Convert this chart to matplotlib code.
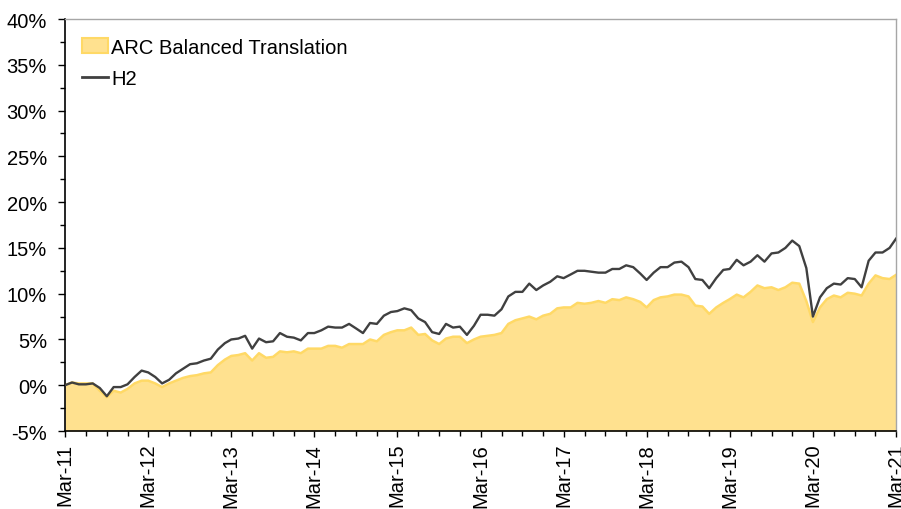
import matplotlib

matplotlib.use("Agg")

import matplotlib.dates as mdates
import matplotlib.pyplot as plt
import numpy as np
import pandas as pd
from matplotlib.lines import Line2D
from matplotlib.patches import Patch
from matplotlib.ticker import FuncFormatter, MultipleLocator

plt.rcParams["font.family"] = ["Liberation Sans", "DejaVu Sans"]

# monthly cumulative returns (%), Mar-11 .. Mar-21
months = pd.date_range("2011-03-01", "2021-03-01", freq="MS")

arc_balanced = [
    0.0, 0.3, 0.2, 0.2, 0.2, -0.6, -1.3, -0.6, -0.8, -0.4, 0.2, 0.5,
    0.5, 0.2, -0.2, 0.2, 0.5, 0.8, 1.0, 1.1, 1.3, 1.4, 2.2, 2.8,
    3.2, 3.3, 3.5, 2.7, 3.5, 3.0, 3.1, 3.7, 3.6, 3.7, 3.5, 4.0,
    4.0, 4.0, 4.3, 4.3, 4.1, 4.5, 4.5, 4.5, 5.0, 4.8, 5.5, 5.8,
    6.0, 6.0, 6.3, 5.5, 5.6, 4.9, 4.5, 5.1, 5.3, 5.3, 4.6, 5.0,
    5.3, 5.4, 5.5, 5.7, 6.7, 7.1, 7.3, 7.5, 7.2, 7.6, 7.8, 8.4,
    8.5, 8.5, 9.0, 8.9, 9.0, 9.2, 9.0, 9.4, 9.3, 9.6, 9.4, 9.1,
    8.5, 9.3, 9.6, 9.7, 9.9, 9.9, 9.7, 8.7, 8.6, 7.8, 8.5, 9.0,
    9.4, 9.9, 9.6, 10.2, 10.9, 10.6, 10.7, 10.4, 10.7, 11.2, 11.1, 9.2,
    6.9, 8.5, 9.4, 9.8, 9.6, 10.1, 10.0, 9.8, 11.1, 12.0, 11.7, 11.6,
    12.05,
]

h2 = [
    0.0, 0.3, 0.1, 0.1, 0.2, -0.3, -1.2, -0.2, -0.2, 0.1, 0.9, 1.6,
    1.4, 0.9, 0.2, 0.6, 1.3, 1.8, 2.3, 2.4, 2.7, 2.9, 3.9, 4.6,
    5.0, 5.1, 5.4, 4.0, 5.1, 4.7, 4.8, 5.7, 5.3, 5.2, 4.9, 5.7,
    5.7, 6.0, 6.4, 6.3, 6.3, 6.7, 6.2, 5.7, 6.8, 6.7, 7.6, 8.0,
    8.1, 8.4, 8.2, 7.3, 6.9, 5.8, 5.6, 6.7, 6.3, 6.4, 5.5, 6.5,
    7.7, 7.7, 7.6, 8.3, 9.7, 10.2, 10.2, 11.1, 10.4, 10.9, 11.3, 11.9,
    11.7, 12.1, 12.5, 12.5, 12.4, 12.3, 12.3, 12.7, 12.7, 13.1, 12.9, 12.2,
    11.5, 12.3, 12.9, 12.9, 13.4, 13.5, 12.9, 11.6, 11.5, 10.6, 11.7, 12.6,
    12.7, 13.7, 13.1, 13.5, 14.2, 13.5, 14.4, 14.5, 15.0, 15.8, 15.2, 12.8,
    7.5, 9.6, 10.6, 11.1, 11.0, 11.7, 11.6, 10.7, 13.6, 14.5, 14.5, 15.0,
    16.0,
]

series_labels = ["ARC Balanced Translation", "H2"]
y_min, y_max = -5, 40

area_fill = "#FFE18F"
area_edge = "#FFD966"
line_color = "#404040"
font_size = 14.5

fig = plt.figure(figsize=(9.01, 5.10), dpi=100)
ax = fig.add_axes([0.0721, 0.1529, 0.9223, 0.8078])

ax.fill_between(months, arc_balanced, y_min, color=area_fill, linewidth=0, zorder=1)
ax.plot(months, arc_balanced, color=area_edge, linewidth=1.8, zorder=2)
ax.plot(months, h2, color=line_color, linewidth=1.7, zorder=3)

ax.set_xlim(months[0], months[-1])
ax.set_ylim(y_min, y_max)

ax.yaxis.set_major_locator(MultipleLocator(5))
ax.yaxis.set_minor_locator(MultipleLocator(2.5))
ax.yaxis.set_major_formatter(FuncFormatter(lambda v, _: f"{v:.0f}%"))

ax.xaxis.set_major_locator(mdates.MonthLocator(bymonth=3))
ax.xaxis.set_minor_locator(mdates.MonthLocator(bymonth=[3, 6, 9, 12]))
ax.xaxis.set_major_formatter(mdates.DateFormatter("%b-%y"))

ax.tick_params(axis="both", which="major", direction="out", length=5, width=1,
               color="black", labelsize=font_size, labelcolor="black")
ax.tick_params(axis="both", which="minor", direction="out", length=3.5, width=1, color="black")
ax.tick_params(axis="x", which="major", labelrotation=90, length=4.5, pad=4)
ax.tick_params(axis="y", which="major", pad=8)

ax.spines["left"].set_color("black")
ax.spines["bottom"].set_color("black")
ax.spines["left"].set_linewidth(1.2)
ax.spines["bottom"].set_linewidth(1.2)
for side in ("top", "right"):
    ax.spines[side].set_color("#A6A6A6")
    ax.spines[side].set_linewidth(1.0)

handles = [
    Patch(facecolor=area_fill, edgecolor=area_edge, linewidth=1.5),
    Line2D([0], [0], color=line_color, linewidth=2.0),
]
ax.legend(handles, series_labels, loc="upper left", bbox_to_anchor=(0.0205, 0.955),
          frameon=False, fontsize=font_size, handlelength=1.3, handletextpad=0.15,
          labelspacing=0.6, borderaxespad=0.0, borderpad=0.0)

fig.savefig("out.png", dpi=100)
plt.close(fig)
